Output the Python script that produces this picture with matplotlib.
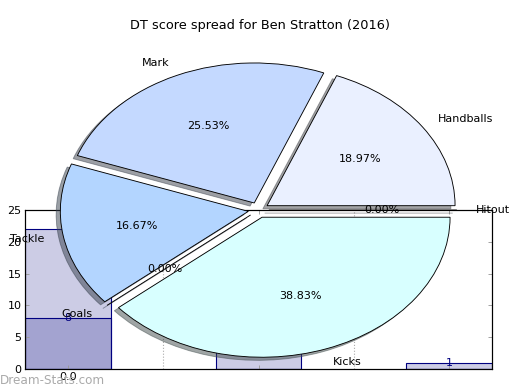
import matplotlib
matplotlib.use("Agg")
import matplotlib.pyplot as plt
from matplotlib.ticker import FixedLocator

# ---- data ----
pie_labels = ['Handballs', 'Mark', 'Tackle', 'Goals', 'Kicks', 'Hitout']
pie_values = [18.97, 25.53, 16.67, 0.0, 38.83, 0.0]
pie_colors = ['#eaf0ff', '#c4d9ff', '#b3d5ff', '#b3d5ff', '#d8ffff', '#eaf0ff']

bar_x = [0, 2, 4]
bar_a = [22, 10, 1]
bar_b = [8, 0, 0]
x_tick_labels = ['0.0', '', '']
title = 'DT score spread for Ben Stratton (2016)'
watermark = 'Dream-Stats.com'

plt.rcParams['font.family'] = ['DejaVu Sans']
fig = plt.figure(figsize=(6.5, 4.875), dpi=80)
pos = [25 / 520, 21 / 390, 467 / 520, 159 / 390]

# ---- bar axes (underneath) ----
axb = fig.add_axes(pos)
axb.bar(bar_x, bar_a, width=0.9, color='navy', alpha=0.2, zorder=1)
axb.bar(bar_x, bar_a, width=0.9, fill=False, edgecolor='navy', linewidth=1, zorder=1.1)
axb.bar(bar_x, bar_b, width=0.9, color='navy', alpha=0.2, zorder=1)
axb.bar(bar_x, bar_b, width=0.9, fill=False, edgecolor='navy', linewidth=1, zorder=1.1)
for xs, vs in ((bar_x, bar_a), (bar_x, bar_b)):
    for xv, v in zip(xs, vs):
        if v:
            axb.text(xv, v, str(v), color='navy', ha='center', va='center', fontsize=10)
axb.set_xlim(-0.45, 4.45)
axb.set_ylim(0, 25)
axb.set_yticks([0, 5, 10, 15, 20, 25])
axb.set_xticks(bar_x)
axb.set_xticklabels(x_tick_labels)
axb.xaxis.set_minor_locator(FixedLocator([1, 3]))
axb.grid(True, which='minor', axis='x', linestyle=':', color='#aaaaaa', linewidth=1)
axb.tick_params(axis='both', which='both', direction='in', top=True, right=True,
                color='#999999', labelsize=10, length=4, pad=3)
axb.tick_params(axis='x', which='minor', length=0)
for s in axb.spines.values():
    s.set_linewidth(1)

# ---- pie axes (on top) ----
axp = fig.add_axes(pos)
wedges, texts, autotexts = axp.pie(
    pie_values, labels=pie_labels, colors=pie_colors, explode=[0.055] * len(pie_values),
    autopct='%.2f%%', pctdistance=0.6, labeldistance=1.1, startangle=0,
    shadow={'ox': -0.02, 'oy': -0.02, 'zorder': 2.8},
    wedgeprops={'edgecolor': 'black', 'linewidth': 0.8, 'zorder': 3},
    textprops={'fontsize': 10})
for t in texts:
    t.set_zorder(2)
for t in autotexts:
    t.set_zorder(2 if abs(t.get_position()[1]) < 1e-9 else 4)
axp.set_aspect('auto')
axp.set_frame_on(True)
axp.patch.set_visible(False)
axp.set_xlim(-233.5 / 188, 233.5 / 188)
axp.set_ylim(-159 / 140, 0)
axp.set_xticks([])
axp.set_yticks([])
for s in axp.spines.values():
    s.set_linewidth(1)

fig.text(0.5, 1 - 25 / 390, title, ha='center', va='center', fontsize=11.6)
fig.text(0.0, 9 / 390, watermark, ha='left', va='center', fontsize=10.8, color='#aaaaaa')

fig.savefig('out.png', dpi=80)
